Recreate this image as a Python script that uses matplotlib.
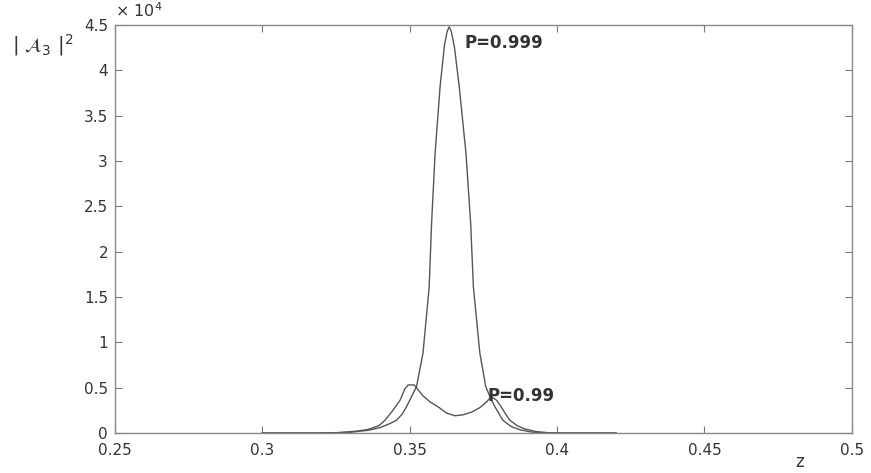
import matplotlib
matplotlib.use("Agg")
import matplotlib.pyplot as plt

plt.rcParams['font.family'] = ['DejaVu Sans']

# |A3|^2 in units of 1e4
z_999 = [0.300, 0.320, 0.325, 0.330, 0.336, 0.340, 0.3430, 0.3455, 0.3475, 0.3489, 0.3506, 0.3523,
         0.3545, 0.3566, 0.3574, 0.3586, 0.3603, 0.3618, 0.3627, 0.3634, 0.3641, 0.3652, 0.3668,
         0.3691, 0.3707, 0.3716, 0.3738, 0.3758, 0.3775, 0.3789, 0.3816, 0.3845, 0.3875, 0.391,
         0.395, 0.400, 0.420]
a_999 = [0.0, 0.0, 0.002, 0.008, 0.03, 0.06, 0.10, 0.14, 0.21, 0.29, 0.40, 0.51,
         0.88, 1.61, 2.30, 3.08, 3.82, 4.28, 4.43, 4.48, 4.43, 4.25, 3.82,
         3.08, 2.30, 1.61, 0.88, 0.51, 0.38, 0.29, 0.14, 0.07, 0.035, 0.012,
         0.003, 0.0, 0.0]

z_99 = [0.300, 0.320, 0.326, 0.332, 0.336, 0.3395, 0.3416, 0.3443, 0.3467, 0.3484, 0.3495,
        0.3515, 0.3530, 0.3545, 0.3568, 0.3600, 0.3625, 0.3653, 0.3680, 0.3710, 0.3738,
        0.3760, 0.3772, 0.3782, 0.3795, 0.3810, 0.3825, 0.3840, 0.3865, 0.3890, 0.3930,
        0.3980, 0.420]
a_99 = [0.0, 0.0, 0.005, 0.02, 0.04, 0.08, 0.14, 0.25, 0.36, 0.49, 0.53,
        0.53, 0.47, 0.41, 0.345, 0.28, 0.22, 0.19, 0.20, 0.23, 0.28,
        0.34, 0.385, 0.39, 0.36, 0.29, 0.21, 0.14, 0.08, 0.045, 0.015,
        0.0, 0.0]

x_ticks = [0.25, 0.3, 0.35, 0.4, 0.45, 0.5]
x_labels = ["0.25", "0.3", "0.35", "0.4", "0.45", "0.5"]
y_ticks = [0, 0.5, 1, 1.5, 2, 2.5, 3, 3.5, 4, 4.5]
y_labels = ["0", "0.5", "1", "1.5", "2", "2.5", "3", "3.5", "4", "4.5"]

fig = plt.figure(figsize=(8.71, 4.73), dpi=100)
ax = fig.add_axes([0.132, 0.0846, 0.846, 0.8625])

line_col = "#555555"
ax.plot(z_999, a_999, color=line_col, lw=1.0)
ax.plot(z_99, a_99, color=line_col, lw=1.0)

ax.set_xlim(0.25, 0.5)
ax.set_ylim(0, 4.5)
ax.set_xticks(x_ticks)
ax.set_xticklabels(x_labels)
ax.set_yticks(y_ticks)
ax.set_yticklabels(y_labels)
ax.tick_params(direction="in", top=True, right=True, length=5, width=0.8,
               labelsize=11, colors="#777777", labelcolor="#333333")
ax.tick_params(axis="x", pad=7)
ax.tick_params(axis="y", pad=5)
for s in ax.spines.values():
    s.set_color("#888888")
    s.set_linewidth(1.0)

ax.text(0.3685, 4.30, "P=0.999", fontsize=12, fontweight="bold", color="#333333",
        va="center", ha="left")
ax.text(0.3763, 0.41, "P=0.99", fontsize=12, fontweight="bold", color="#333333",
        va="center", ha="left")

fig.text(0.132, 0.958, r"$\times\ 10^4$", fontsize=11.5, color="#333333", ha="left", va="bottom")
fig.text(0.014, 0.905, r"$|\ \mathcal{A}_3\ |^2$", fontsize=14, color="#333333",
         ha="left", va="center")
fig.text(0.918, 0.005, "z", fontsize=12, color="#333333", ha="center", va="bottom")

fig.savefig("out.png", dpi=100)
